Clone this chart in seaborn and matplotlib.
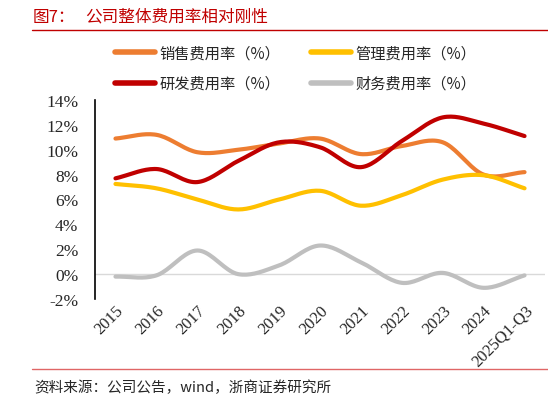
import numpy as np
import pandas as pd
import seaborn as sns
import matplotlib.pyplot as plt
from matplotlib.lines import Line2D

years = ["2015", "2016", "2017", "2018", "2019", "2020", "2021", "2022", "2023", "2024", "2025Q1-Q3"]
sales_rate = [10.9, 11.2, 9.8, 10.0, 10.5, 10.9, 9.65, 10.3, 10.6, 8.0, 8.2]
admin_rate = [7.25, 6.9, 6.0, 5.2, 6.0, 6.7, 5.5, 6.35, 7.6, 7.95, 6.9]
rd_rate = [7.7, 8.45, 7.4, 9.1, 10.6, 10.2, 8.6, 10.7, 12.6, 12.1, 11.1]
fin_rate = [-0.2, -0.1, 1.9, 0.0, 0.7, 2.3, 0.95, -0.7, 0.1, -1.1, -0.1]

series_names = ["销售费用率（%）", "管理费用率（%）", "研发费用率（%）", "财务费用率（%）"]
series_values = [sales_rate, admin_rate, rd_rate, fin_rate]
colors = ["#ED7D31", "#FFC000", "#C00000", "#BFBFBF"]


def smooth(xs, ys, n=20):
    """Catmull-Rom curve through the points, like Excel's smoothed line."""
    xs = np.asarray(xs, float)
    ys = np.asarray(ys, float)
    px = np.concatenate([[2 * xs[0] - xs[1]], xs, [2 * xs[-1] - xs[-2]]])
    py = np.concatenate([[2 * ys[0] - ys[1]], ys, [2 * ys[-1] - ys[-2]]])
    out_x, out_y = [], []
    for i in range(1, len(px) - 2):
        t = np.linspace(0, 1, n, endpoint=False)
        for p, out in ((px, out_x), (py, out_y)):
            p0, p1, p2, p3 = p[i - 1], p[i], p[i + 1], p[i + 2]
            out.extend(0.5 * (2 * p1 + (-p0 + p2) * t
                              + (2 * p0 - 5 * p1 + 4 * p2 - p3) * t ** 2
                              + (-p0 + 3 * p1 - 3 * p2 + p3) * t ** 3))
    out_x.append(xs[-1])
    out_y.append(ys[-1])
    return np.array(out_x), np.array(out_y)


rows = []
for name, vals in zip(series_names, series_values):
    sx, sy = smooth(range(len(years)), vals)
    rows.append(pd.DataFrame({"x": sx, "y": sy, "series": name}))
df = pd.concat(rows, ignore_index=True)

sns.set_style("white")
plt.rcParams["font.family"] = ["Liberation Serif", "Noto Sans CJK SC", "DejaVu Sans"]

fig = plt.figure(figsize=(5.48, 4.02), dpi=100)
ax = fig.add_axes([0.1734, 0.2537, 0.8211, 0.4951])

sns.lineplot(data=df, x="x", y="y", hue="series", palette=colors, hue_order=series_names,
             linewidth=3, sort=False, legend=False, ax=ax)

ax.axhline(0, color="#D9D9D9", linewidth=1, zorder=0)
ax.set_xlim(-0.5, len(years) - 0.5)
ax.set_ylim(-2, 14)
ax.set_yticks(range(-2, 15, 2))
ax.set_yticklabels([f"{v}%" for v in range(-2, 15, 2)], fontsize=12.5)
ax.set_xticks(range(len(years)))
ax.set_xticklabels(years, rotation=45, ha="right", rotation_mode="anchor", fontsize=12)
ax.tick_params(axis="y", direction="in", length=5, width=1, color="black", pad=12)
ax.tick_params(axis="x", length=0, pad=2)
ax.set_xlabel("")
ax.set_ylabel("")
for side in ["top", "right", "bottom"]:
    ax.spines[side].set_visible(False)
ax.spines["left"].set_color("black")
ax.spines["left"].set_linewidth(1.2)

# matplotlib fills legend column by column, reference reads row by row
handles = [Line2D([0], [0], color=c, linewidth=4) for c in colors]
order = [0, 2, 1, 3]
fig.legend([handles[i] for i in order], [series_names[i] for i in order], ncol=2,
           loc="center", bbox_to_anchor=(0.54, 0.828), frameon=False,
           prop={"family": ["Noto Sans CJK SC"], "size": 11},
           handlelength=2.6, columnspacing=2.0, labelspacing=0.9, handletextpad=0.3)

fig.text(0.06, 0.957, "图7：", color="#C00000", fontsize=12,
         family=["Noto Sans CJK SC"], va="center")
fig.text(0.155, 0.957, "公司整体费用率相对刚性", color="#C00000", fontsize=12,
         family=["Noto Sans CJK SC"], va="center")
fig.add_artist(Line2D([0.058, 1.0], [0.923, 0.923], color="#C00000", linewidth=1))
fig.add_artist(Line2D([0.058, 1.0], [0.08, 0.08], color="#E06666", linewidth=1))
fig.text(0.062, 0.035, "资料来源：公司公告，wind，浙商证券研究所", fontsize=10.5,
         family=["Noto Sans CJK SC", "Liberation Serif"], va="center")

fig.savefig("out.png", dpi=100)
